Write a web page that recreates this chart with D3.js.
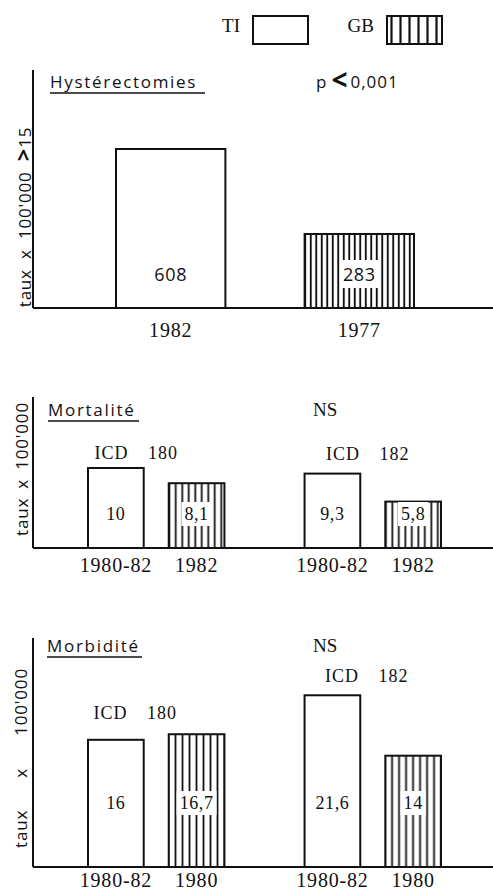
<!DOCTYPE html>
<html>
<head>
<meta charset="utf-8">
<script src="https://cdn.jsdelivr.net/npm/d3@7"></script>
<style>
  body { margin: 0; background: #fff; }
  svg { display: block; }
  .serif { font-family: "Liberation Serif", "DejaVu Serif", serif; fill: #111; }
  .sans { font-family: "Open Sans", "DejaVu Sans", sans-serif; fill: #111; }
</style>
</head>
<body>
<div id="chart"></div>
<script>
// data
const series = ["TI", "GB"];
const hystYears = ["1982", "1977"];
const hystRates = [608, 283];
const icdGroups = ["ICD 180", "ICD 182"];
const mortYears = ["1980-82", "1982"];
const mortRates180 = [10, 8.1];
const mortRates182 = [9.3, 5.8];
const morbYears = ["1980-82", "1980"];
const morbRates180 = [16, 16.7];
const morbRates182 = [21.6, 14];

const width = 493, height = 890;
const axisX = 33;
const ink = "#111";

const svg = d3.select("#chart").append("svg")
  .attr("width", width)
  .attr("height", height);

const defs = svg.append("defs");

function hatch(id, step, lw) {
  const p = defs.append("pattern")
    .attr("id", id)
    .attr("patternUnits", "userSpaceOnUse")
    .attr("width", step)
    .attr("height", 10);
  p.append("rect").attr("width", step).attr("height", 10).attr("fill", "#fff");
  p.append("line")
    .attr("x1", step / 2).attr("x2", step / 2)
    .attr("y1", 0).attr("y2", 10)
    .attr("stroke", ink).attr("stroke-width", lw);
}
hatch("hatchLegend", 9, 2.2);
hatch("hatchA", 5.5, 1.9);
hatch("hatchB", 6.5, 1.8);
hatch("hatchC", 7, 1.8);

const fmt = v => String(v).replace(".", ",");
const fillFor = (s, pat) => s === "GB" ? "url(#" + pat + ")" : "#fff";

// legend
const legend = svg.append("g");
const legX = d3.scaleOrdinal().domain(series).range([253, 387]);
series.forEach(s => {
  legend.append("text").attr("class", "serif")
    .attr("x", legX(s) - 13).attr("y", 32)
    .attr("text-anchor", "end")
    .style("font-size", "19px")
    .text(s);
  legend.append("rect")
    .attr("x", legX(s)).attr("y", 16)
    .attr("width", 55).attr("height", 28)
    .attr("fill", fillFor(s, "hatchLegend"))
    .attr("stroke", ink).attr("stroke-width", 2);
});

function axes(g, top, base) {
  g.append("line")
    .attr("x1", axisX).attr("x2", axisX)
    .attr("y1", top).attr("y2", base)
    .attr("stroke", ink).attr("stroke-width", 2);
  g.append("line")
    .attr("x1", axisX).attr("x2", width)
    .attr("y1", base).attr("y2", base)
    .attr("stroke", ink).attr("stroke-width", 2);
}

function title(g, txt, x, y, x2) {
  g.append("text").attr("class", "sans")
    .attr("x", x).attr("y", y)
    .style("font-size", "17px")
    .style("letter-spacing", "1.7px")
    .text(txt);
  g.append("line")
    .attr("x1", x).attr("x2", x2)
    .attr("y1", y + 5).attr("y2", y + 5)
    .attr("stroke", ink).attr("stroke-width", 1.6);
}

function yLabel(g, txt, x, yMid, wordSpacing) {
  g.append("text").attr("class", "sans")
    .attr("transform", "translate(" + x + "," + yMid + ") rotate(-90)")
    .attr("text-anchor", "middle")
    .style("font-size", "17px")
    .style("letter-spacing", "0.8px")
    .style("word-spacing", wordSpacing + "px")
    .text(txt);
}

function bar(g, x0, w, y, base, s, pat) {
  g.append("rect")
    .attr("x", x0).attr("y", y)
    .attr("width", w).attr("height", base - y)
    .attr("fill", fillFor(s, pat))
    .attr("stroke", ink).attr("stroke-width", 2);
}

function valueLabel(g, cx, y, txt, s, cls, size) {
  const t = g.append("text").attr("class", cls)
    .attr("x", cx).attr("y", y)
    .attr("text-anchor", "middle")
    .style("font-size", size + "px")
    .style("letter-spacing", "0.6px")
    .text(txt);
  if (s === "GB") {
    const b = t.node().getBBox();
    g.insert("rect", function () { return t.node(); })
      .attr("x", b.x - 3).attr("y", b.y - 2)
      .attr("width", b.width + 6).attr("height", b.height + 4)
      .attr("fill", "#fff");
  }
}

function styleTicks(axisG, dy, size) {
  axisG.select(".domain").remove();
  axisG.selectAll("text")
    .attr("class", "serif")
    .attr("dy", null)
    .attr("y", dy)
    .attr("fill", null)
    .style("font-size", size + "px")
    .style("letter-spacing", "0.8px");
  axisG.attr("font-family", null).attr("font-size", null);
}

// ---- panel 1: hysterectomies
{
  const base = 308;
  const g = svg.append("g");
  const x = d3.scaleBand().domain(hystYears).range([116, 414]).paddingInner(0.42);
  const y = d3.scaleLinear().domain([0, 700]).range([base, base - 700 * 159 / 608]);

  axes(g, 70, base);
  title(g, "Hystérectomies", 50, 88, 205);

  const p = g.append("text").attr("class", "sans")
    .attr("x", 316).attr("y", 88)
    .style("font-size", "17px");
  p.append("tspan").text("p");
  p.append("tspan").attr("dx", 5).attr("dy", 2).style("font-size", "28px").style("font-weight", "bold").text("<");
  p.append("tspan").attr("dx", 3).attr("dy", -2).style("letter-spacing", "1px").text("0,001");

  const yl = g.append("text").attr("class", "sans")
    .attr("transform", "translate(31,217) rotate(-90)")
    .attr("text-anchor", "middle")
    .style("font-size", "17px")
    .style("letter-spacing", "0.8px")
    .style("word-spacing", "5px");
  yl.append("tspan").text("taux x 100'000 ");
  yl.append("tspan").style("font-weight", "bold").style("font-size", "22px").text(">");
  yl.append("tspan").text("15");

  hystYears.forEach((yr, i) => {
    bar(g, x(yr), x.bandwidth(), y(hystRates[i]), base, series[i], "hatchA");
    valueLabel(g, x(yr) + x.bandwidth() / 2, base - 27, fmt(hystRates[i]), series[i], "sans", 18);
  });

  const ax = g.append("g").attr("transform", "translate(0," + base + ")")
    .call(d3.axisBottom(x).tickSize(0));
  styleTicks(ax, 29, 20);
}

// grouped panels (mortality / morbidity)
function groupedPanel(opts) {
  const base = opts.base;
  const g = svg.append("g");
  const outer = d3.scaleBand().domain(icdGroups).range([88, 441]).paddingInner(0.37);
  const inner = d3.scaleBand().domain(series).range([0, outer.bandwidth()]).paddingInner(0.31);
  const y = d3.scaleLinear().domain([0, opts.yMax]).range([base, base - opts.yMax * opts.pxPerUnit]);

  axes(g, opts.top, base);
  title(g, opts.title, opts.titleX, opts.titleY, opts.titleX2);
  g.append("text").attr("class", "serif")
    .attr("x", 313).attr("y", opts.titleY)
    .style("font-size", "19px")
    .text("NS");
  yLabel(g, "taux x 100'000", opts.yLabX, opts.yLabMid, opts.wordSpacing);

  icdGroups.forEach((grp, gi) => {
    const rates = opts.rates[gi];
    const gg = g.append("g").attr("transform", "translate(" + outer(grp) + ",0)");
    series.forEach((s, si) => {
      bar(gg, inner(s), inner.bandwidth(), y(rates[si]), base, s, opts.pattern);
      valueLabel(gg, inner(s) + inner.bandwidth() / 2, base - opts.labelUp, fmt(rates[si]), s, "serif", 18);
    });
    gg.append("text").attr("class", "serif")
      .attr("x", outer.bandwidth() / 2 + opts.icdShift[gi])
      .attr("y", y(d3.max(rates)) - opts.icdUp[gi])
      .attr("text-anchor", "middle")
      .style("font-size", "18px")
      .style("letter-spacing", "1px")
      .style("word-spacing", "14px")
      .text(grp);
    const ax = gg.append("g").attr("transform", "translate(0," + base + ")")
      .call(d3.axisBottom(inner).tickSize(0).tickFormat((d, i) => opts.years[i]));
    styleTicks(ax, opts.tickDy, 20);
  });
}

groupedPanel({
  base: 548, top: 397, yMax: 12, pxPerUnit: 8,
  title: "Mortalité", titleX: 48, titleY: 416, titleX2: 139,
  yLabX: 28, yLabMid: 469, wordSpacing: 4,
  rates: [mortRates180, mortRates182], years: mortYears,
  pattern: "hatchB", labelUp: 28, icdShift: [-20, -5], icdUp: [9, 14], tickDy: 24
});

groupedPanel({
  base: 867, top: 638, yMax: 25, pxPerUnit: 7.95,
  title: "Morbidité", titleX: 47, titleY: 652, titleX2: 142,
  yLabX: 27, yLabMid: 758, wordSpacing: 27,
  rates: [morbRates180, morbRates182], years: morbYears,
  pattern: "hatchC", labelUp: 58, icdShift: [-21, -6], icdUp: [15, 13], tickDy: 20
});
</script>
</body>
</html>
